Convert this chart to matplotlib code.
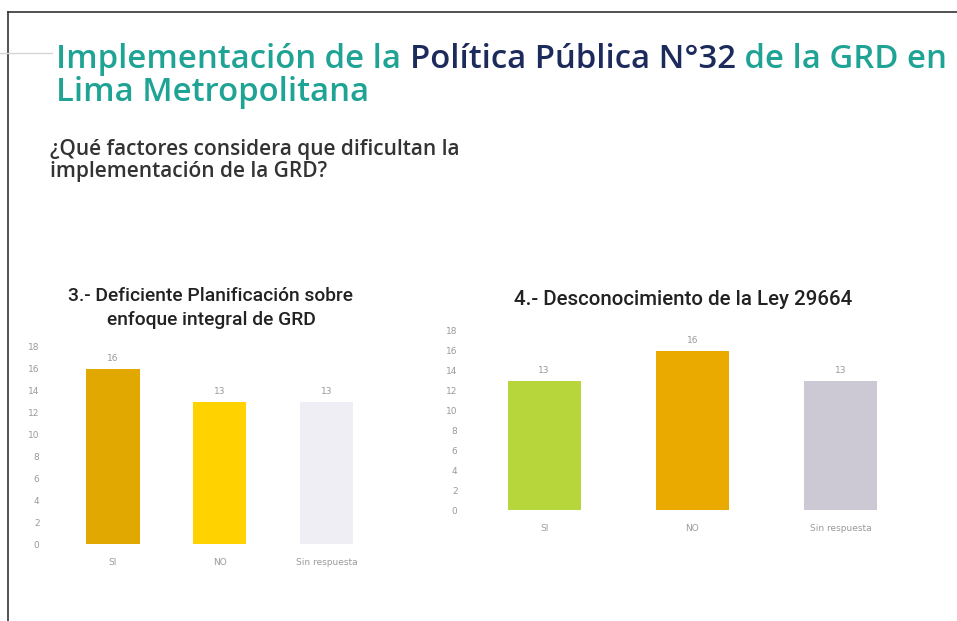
# bar charts: factors that make GRD implementation difficult
import matplotlib.pyplot as plt
from matplotlib.lines import Line2D
from matplotlib import font_manager

W, H = 957, 621

# data
categories = ["SI", "NO", "Sin respuesta"]
planificacion = [16, 13, 13]
ley_29664 = [13, 16, 13]
colors_1 = ["#e0a800", "#ffd200", "#eeeef4"]
colors_2 = ["#b6d63c", "#eaaa00", "#ccc8d4"]
yticks = list(range(0, 19, 2))

title_parts = [("Implementación de la ", "#1fa394"),
               ("Política Pública N°32", "#1c2a5c"),
               (" de la GRD en", "#1fa394")]
title_line2 = "Lima Metropolitana"
question = ["¿Qué factores considera que dificultan la", "implementación de la GRD?"]
chart1_title = "3.- Deficiente Planificación sobre\nenfoque integral de GRD"
chart2_title = "4.- Desconocimiento de la Ley 29664"

names = {f.name for f in font_manager.fontManager.ttflist}
narrow = "Liberation Sans Narrow" if "Liberation Sans Narrow" in names else "Roboto"

fig = plt.figure(figsize=(W / 100, H / 100), dpi=100)
fig.patch.set_facecolor("white")
renderer = fig.canvas.get_renderer()


def px_ax(left, right, bottom, top):
    # pixel box -> figure fraction axes
    return fig.add_axes([left / W, 1 - bottom / H, (right - left) / W, (bottom - top) / H])


def fx(x):
    return x / W


def fy(y):
    return 1 - y / H


# slide frame
fig.add_artist(Line2D([fx(8), fx(8)], [fy(12), fy(621)], color="#333333", lw=1.2))
fig.add_artist(Line2D([fx(8), fx(957)], [fy(12), fy(12)], color="#333333", lw=1.2))
fig.add_artist(Line2D([fx(0), fx(52)], [fy(53), fy(53)], color="#d5d5d5", lw=1))

# main title, mixed colours
tsize = 23.7
x = fx(56)
for txt, col in title_parts:
    t = fig.text(x, fy(68), txt, color=col, fontsize=tsize, family="Open Sans",
                 weight="semibold", va="baseline", ha="left")
    bb = t.get_window_extent(renderer)
    x = bb.x1 / W
fig.text(fx(56), fy(101), title_line2, color="#1fa394", fontsize=tsize,
         family="Open Sans", weight="semibold", va="baseline", ha="left")

fig.text(fx(50), fy(155), question[0], color="#333333", fontsize=15,
         family="Open Sans", weight="semibold", va="baseline", ha="left")
fig.text(fx(50), fy(177), question[1], color="#333333", fontsize=15,
         family="Open Sans", weight="semibold", va="baseline", ha="left")


def bar_chart(ax, values, colors, width):
    pos = list(range(len(values)))
    bars = ax.bar(pos, values, width=width, color=colors)
    for b, v in zip(bars, values):
        ax.annotate(str(v), (b.get_x() + b.get_width() / 2, v), xytext=(0, 4),
                    textcoords="offset points", ha="center", va="bottom",
                    fontsize=6.5, color="#9a9a9a")
    ax.set_ylim(0, 18)
    ax.set_yticks(yticks)
    ax.set_xticks(pos)
    ax.set_xticklabels(categories)
    ax.tick_params(length=0, labelsize=6.5, labelcolor="#9a9a9a")
    ax.tick_params(axis="y", pad=9)
    ax.tick_params(axis="x", pad=10)
    for s in ax.spines.values():
        s.set_visible(False)
    ax.set_facecolor("none")
    return bars


# chart 3
ax1 = px_ax(52, 380, 544, 347)
bar_chart(ax1, planificacion, colors_1, 0.5)
ax1.set_xlim(-0.57, 2.5)
fig.text(fx(211), fy(308), chart1_title, ha="center", va="center", fontsize=13.9,
         family=narrow, weight="medium", color="#222222", linespacing=1.4)

# chart 4
ax2 = px_ax(470, 915, 510, 331)
bar_chart(ax2, ley_29664, colors_2, 0.49)
ax2.set_xlim(-0.5, 2.5)
fig.text(fx(683), fy(300), chart2_title, ha="center", va="center", fontsize=14.8,
         family=narrow, weight="medium", color="#222222")

plt.savefig("out.png", dpi=100)
